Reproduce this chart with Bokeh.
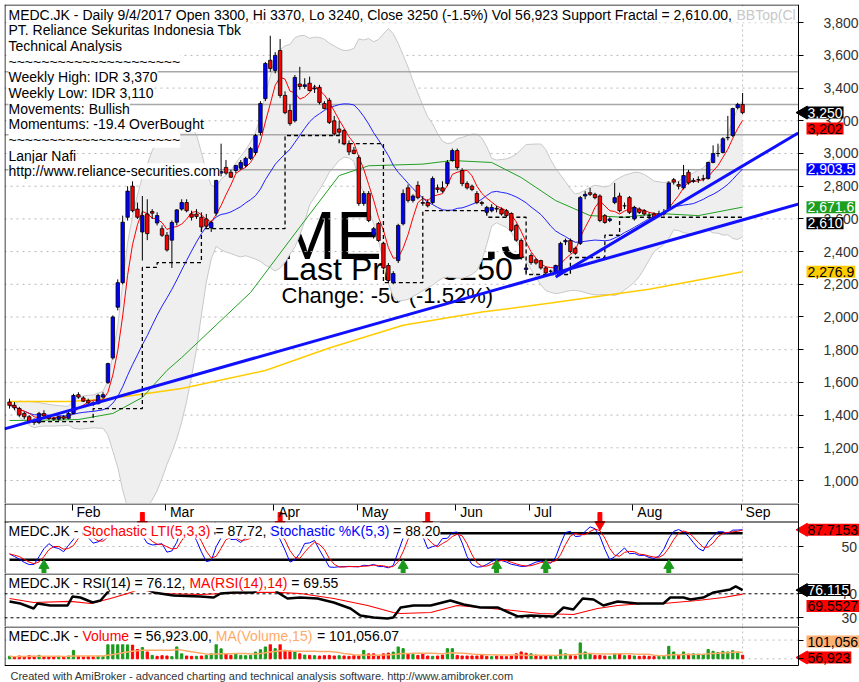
import numpy as np
import pandas as pd
from bokeh.plotting import figure
from bokeh.layouts import column
from bokeh.models import Range1d, FixedTicker, NumeralTickFormatter, Label, ColumnDataSource, LinearAxis
from bokeh.embed import file_html
from bokeh.resources import INLINE

FONT = "Liberation Sans"

# ---------------- data ----------------
opens = [1480,1460,1440,1410,1390,1365,1355,1410,1395,1380,
         1375,1390,1380,1410,1525,1505,1490,1475,1470,1510,
         1600,1750,2060,2210,2610,2800,2660,2520,2630,2645,
         2575,2540,2500,2470,2580,2660,2700,2630,2630,2610,
         2600,2545,2635,2880,2915,2885,2896,2910,2927,2970,
         3006,3128,3336,3570,3508,3630,3355,3263,3200,3425,
         3410,3430,3395,3405,3306,3325,3200,3150,3140,3060,
         3020,2975,2694,2755,2500,2572,2450,2315,2210,2345,
         2570,2790,2713,2805,2700,2700,2700,2790,2790,2816,
         2957,3018,2896,2816,2800,2755,2700,2640,2650,2665,
         2660,2650,2633,2560,2468,2290,2376,2350,2345,2300,
         2280,2270,2266,2460,2468,2420,2450,2740,2760,2750,
         2740,2620,2590,2700,2740,2680,2730,2600,2660,2650,
         2620,2630,2620,2630,2660,2840,2810,2790,2885,2830,
         2840,2845,2847,2945,3000,3006,3097,3110,3280,3300]
highs = [1500,1480,1450,1420,1400,1380,1420,1430,1400,1390,
         1395,1400,1420,1530,1540,1515,1500,1485,1530,1540,
         1720,2010,2230,2620,2800,2830,2700,2740,2720,2660,
         2640,2560,2520,2590,2660,2720,2720,2650,2660,2640,
         2630,2590,2840,3060,2960,2900,2930,2960,2980,3040,
         3120,3320,3560,3720,3620,3700,3380,3300,3480,3530,
         3460,3470,3420,3420,3320,3340,3230,3200,3150,3080,
         3040,2990,2770,2770,2550,2580,2460,2330,2280,2570,
         2780,2810,2750,2830,2740,2720,2860,2810,2830,2960,
         3030,3030,2910,2830,2810,2770,2710,2680,2690,2680,
         2670,2660,2640,2570,2480,2320,2390,2360,2350,2310,
         2290,2320,2460,2480,2480,2430,2740,2770,2790,2760,
         2750,2630,2610,2820,2760,2700,2740,2680,2670,2660,
         2640,2640,2650,2660,2830,2850,2830,2930,2900,2850,
         2860,2870,2950,3050,3060,3100,3230,3280,3310,3370]
lows = [1440,1430,1390,1375,1350,1340,1345,1385,1370,1365,
        1365,1370,1375,1405,1500,1480,1465,1455,1465,1500,
        1590,1740,2040,2200,2590,2640,2600,2345,2470,2600,
        2560,2490,2400,2300,2560,2650,2640,2590,2600,2540,
        2540,2520,2620,2860,2870,2850,2880,2900,2915,2960,
        2990,3110,3320,3500,3490,3340,3240,3170,3190,3390,
        3395,3380,3370,3300,3270,3180,3110,3110,3050,2990,
        2995,2680,2680,2580,2480,2460,2290,2210,2200,2330,
        2560,2700,2700,2720,2680,2670,2690,2760,2760,2800,
        2950,2900,2800,2780,2770,2690,2680,2630,2640,2640,
        2620,2610,2520,2460,2350,2270,2320,2320,2290,2260,
        2265,2260,2260,2440,2390,2380,2440,2720,2740,2720,
        2580,2570,2580,2690,2640,2660,2630,2590,2630,2620,
        2600,2600,2610,2620,2650,2810,2780,2780,2810,2820,
        2820,2830,2840,2940,2980,3000,3080,3100,3270,3240]
closes = [1460,1445,1400,1390,1360,1355,1410,1395,1380,1375,
          1390,1380,1410,1520,1510,1485,1475,1465,1520,1525,
          1715,2000,2210,2580,2770,2650,2610,2620,2510,2635,
          2620,2500,2410,2578,2655,2700,2650,2610,2615,2550,
          2555,2578,2835,2890,2880,2855,2927,2945,2970,3030,
          3110,3306,3550,3520,3600,3355,3250,3183,3465,3410,
          3420,3385,3400,3312,3275,3190,3120,3130,3060,3010,
          3000,2694,2755,2590,2540,2468,2300,2223,2266,2560,
          2755,2713,2740,2730,2695,2680,2847,2780,2770,2945,
          3018,2914,2816,2790,2780,2700,2694,2670,2670,2660,
          2630,2620,2530,2470,2364,2300,2333,2330,2300,2270,
          2280,2315,2450,2468,2400,2390,2730,2750,2750,2730,
          2590,2578,2600,2730,2650,2680,2640,2670,2640,2630,
          2620,2610,2630,2640,2820,2825,2800,2865,2820,2835,
          2840,2845,2945,3000,3000,3090,3097,3275,3300,3250]
volume_k = [40,30,45,35,50,40,55,35,30,35,
            40,30,45,135,40,30,35,30,40,35,
            230,235,230,240,225,220,150,180,110,55,
            40,50,45,35,190,80,45,40,40,45,
            55,80,235,160,80,55,80,55,50,55,
            108,145,190,233,163,233,135,125,108,80,
            60,55,50,45,50,55,45,50,45,40,
            50,45,135,80,80,55,80,92,108,190,
            163,80,70,55,80,45,40,45,60,163,
            163,55,45,45,45,45,60,40,35,45,
            40,35,45,80,110,90,80,60,40,40,
            40,40,146,80,55,45,255,110,80,55,
            55,45,40,80,80,50,55,45,40,45,
            40,35,40,45,200,110,70,110,75,80,
            75,70,150,120,100,120,110,130,110,56.923]

month_idx = [13, 32, 54, 71, 91, 106, 127, 149]
month_lbl = ["Feb", "Mar", "Apr", "May", "Jun", "Jul", "Aug", "Sep"]
price_ticks = list(range(1000, 3801, 200))

# moving averages (bar index, value)
green_idx = [0, 10, 14, 21, 27, 32, 35, 49, 59, 67, 73, 84, 90, 98, 104, 111, 118, 125, 132, 140, 149]
green_val = [1367, 1370, 1373, 1410, 1508, 1673, 1752, 2150, 2550, 2865, 2925, 2935, 2957, 2945, 2853, 2712, 2620, 2610, 2633, 2620, 2672]
yellow_idx = [0, 12, 18.5, 25, 35, 52, 65, 80, 96, 110, 130, 149]
yellow_val = [1483, 1483, 1495, 1520, 1563, 1673, 1810, 1950, 2030, 2085, 2170, 2277]

# support fractal steps (start bar, level)
sup_idx = [5, 17, 27, 30, 39, 56, 67, 76, 84, 97, 105, 114, 121, 124]
sup_lvl = [1360, 1440, 2303, 2333, 2540, 3110, 3060, 2210, 2650, 2610, 2260, 2364, 2500, 2610]

# trend lines (bar index pairs, price pairs)
trend1_idx = [-1.0, 160.3]; trend1_val = [1316, 2690]
trend2_idx = [111, 160.3];  trend2_val = [2245, 3125]
trend3_idx = [112, 132];    trend3_val = [2262, 2630]

pivot_lvls = [3500, 3300, 3115, 2900]

# RSI
rsi_idx = [0, 2.2, 4.9, 5.7, 8.3, 11.8, 12.8, 14.4, 16.9, 18.5, 19.9, 21.5, 23.6, 25.6, 27.6, 29.3, 33.3,
           38.8, 41.5, 42.9, 45.5, 49.6, 51.6, 53, 54.5, 56.5, 59.1, 62.6, 65.9, 69.3, 71.3, 74, 76.8, 78,
           79.5, 82.1, 85.6, 89.6, 92.3, 95.7, 99.2, 103.3, 105.9, 110.6, 112.6, 114.6, 116.5, 118.7,
           120.7, 123.6, 127.6, 132.9, 134.3, 137, 138.4, 141, 143.1, 146.5, 147.6, 149]
rsi_val = [57.2, 53.8, 45.5, 53.8, 50.5, 50.5, 65.5, 63.8, 55.5, 58.8, 72.2, 85, 90, 88, 80, 72.2, 67.2,
           65.5, 63.8, 70.5, 72.2, 72.2, 85, 88, 72.2, 62.2, 63.8, 62.2, 55.5, 45.5, 33.8, 30.5, 28.8, 30.5,
           47.2, 50.5, 50.5, 58.8, 52.2, 47.2, 47.2, 32.2, 33.8, 32.2, 47.2, 43.8, 62.2, 60.5,
           50.5, 57.2, 53.8, 53.8, 63.8, 63.8, 60.5, 63.8, 72.2, 77.2, 82.2, 76.12]
rsima_idx = [0, 4.9, 12.4, 16.5, 20.5, 24, 26.6, 30.1, 38.8, 49.6, 54.5, 59.1, 65.9, 72.8, 78, 79.5, 85.6,
             91, 95.7, 102.4, 107.9, 114.6, 119.5, 123.6, 128.9, 132.9, 139.8, 145.1, 149]
rsima_val = [62.2, 55.5, 57.2, 53.8, 62.2, 70.5, 78, 70.5, 68.8, 72.2, 72.2, 70.5, 62.2, 50.5, 38.8, 37.2, 38.8,
             50.5, 47.2, 42.2, 37.2, 35.5, 45.5, 50.5, 53.8, 53.8, 58.8, 63.8, 69.55]

buy_idx = [7, 80, 99, 109, 134]
sell_idx = [27, 55, 85, 120]
stoch_levels = [20, 80]
rsi_levels = [30, 70]

# right-hand value tags (value, text, background, text colour, has pointer)
main_tags = [(3250, "3,250", "#000000", "#ffffff", True), (3202, "3,202", "#ff0000", "#000000", False),
             (2903.5, "2,903.5", "#0000ff", "#ffffff", False), (2671.6, "2,671.6", "#1e9e1e", "#ffffff", False),
             (2610, "2,610", "#000000", "#ffffff", False), (2276.9, "2,276.9", "#ffcc00", "#000000", False)]
stoch_tags = [(87.7153, "87.7153", "#ff0000", "#000000", True)]
rsi_tags = [(76.115, "76.115", "#000000", "#ffffff", True), (69.5527, "69.5527", "#ff0000", "#000000", False)]
vol_tags = [(101056, "101,056", "#ffb070", "#000000", False), (56923, "56,923", "#ff0000", "#000000", True)]

# ---------------- derived series ----------------
n = len(closes)
idx = np.arange(n)
cs = pd.Series(closes, dtype=float)
hs = pd.Series(highs, dtype=float)
ls = pd.Series(lows, dtype=float)
ma5 = cs.rolling(5, min_periods=1).mean()
ma20 = cs.rolling(20, min_periods=1).mean()
sd20 = cs.rolling(20, min_periods=1).std(ddof=0)
bbt = ma20 + 2 * sd20
bbb = ma20 - 2 * sd20
hh = hs.rolling(5, min_periods=1).max()
ll = ls.rolling(5, min_periods=1).min()
rawk = 100 * (cs - ll) / (hh - ll)
stk = rawk.rolling(3, min_periods=1).mean()
std_ = stk.rolling(3, min_periods=1).mean()
vol = pd.Series(volume_k) * 1000
volma = vol.rolling(15, min_periods=1).mean()
up_c = [c >= o for o, c in zip(opens, closes)]
vol_up = [True] + [closes[i] >= closes[i - 1] for i in range(1, n)]

# ---------------- helpers ----------------
AW = {}
AW.update(dict(zip(" !(),-./:=%~", [278, 278, 333, 333, 278, 333, 278, 278, 278, 584, 889, 584])))
AW.update({str(d): 556 for d in range(10)})
AW.update(dict(zip("ABCDEFGHIJKLMNOPQRSTUVWXYZ",
                   [667,667,722,722,667,611,778,722,278,500,667,556,833,722,778,667,778,722,667,611,722,667,944,667,667,611])))
AW.update(dict(zip("abcdefghijklmnopqrstuvwxyz",
                   [556,556,500,556,556,278,556,556,222,222,500,222,833,556,556,556,556,333,500,278,556,500,722,500,500,500])))


def tw(s, size):
    return sum(AW.get(ch, 556) for ch in s) * size / 1000.0


W = 859
PX0 = 4            # frame left (page px)
PXB = 4.92         # px per bar
X0 = -1.02
X1 = X0 + (W - PX0) / PXB


def xp(page_x):
    return X0 + (page_x - PX0) / PXB


XA = xp(798)       # price-axis line
xr = Range1d(X0, X1)


class Panel:
    def __init__(self, ptop, pbot, vtop, vbot, top_border=0):
        self.ptop, self.pbot, self.vtop, self.vbot = ptop, pbot, vtop, vbot
        self.fh = pbot - ptop
        self.fig = figure(width=W, height=pbot - ptop + top_border, x_range=xr,
                          y_range=Range1d(vbot, vtop), x_axis_location=None,
                          y_axis_location="right", toolbar_location=None, output_backend="svg",
                          min_border_left=PX0, min_border_top=top_border, min_border_right=0,
                          min_border_bottom=0)
        p = self.fig
        p.outline_line_color = None
        p.background_fill_color = "white"
        p.border_fill_color = "white"
        p.xgrid.visible = False
        p.ygrid.visible = False
        ya = p.yaxis[0]
        ya.fixed_location = XA
        ya.axis_line_color = "black"
        ya.major_tick_line_color = "black"
        ya.major_tick_out = 5
        ya.major_tick_in = 0
        ya.minor_tick_line_color = None
        ya.major_label_text_font = FONT
        ya.major_label_text_font_size = "14px"
        ya.major_label_text_color = "#333333"

    def v(self, page_y):
        return self.vtop - (page_y - self.ptop) * (self.vtop - self.vbot) / self.fh

    def pg(self, val):
        return self.ptop + (self.vtop - val) * self.fh / (self.vtop - self.vbot)

    def hline(self, page_y, color="black", width=1, dash="solid"):
        y = self.v(page_y)
        self.fig.segment(x0=[X0], y0=[y], x1=[XA], y1=[y], line_color=color, line_width=width, line_dash=dash)

    def vline(self, x, p0, p1, color="black", width=1, dash="solid"):
        self.fig.segment(x0=[x], y0=[self.v(p0)], x1=[x], y1=[self.v(p1)], line_color=color,
                         line_width=width, line_dash=dash)

    def grid(self, vals):
        self.fig.segment(x0=[X0] * len(vals), y0=vals, x1=[XA] * len(vals), y1=vals,
                         line_color="#b8b8b8", line_dash="2 4", line_width=1)

    def text(self, page_x, page_y, parts, size=14, bg="white"):
        x = page_x - PX0
        for txt, col in parts:
            self.fig.add_layout(Label(x=x, y=self.pbot - page_y, x_units="screen", y_units="screen",
                                      text=txt, text_font=FONT, text_font_size=f"{size}px",
                                      text_color=col, text_baseline="middle", text_align="left",
                                      background_fill_color=bg, background_fill_alpha=1.0 if bg else 0.0))
            x += tw(txt, size)

    def tags(self, items, lim_page, gap=16):
        pos = [self.pg(it[0]) for it in items]
        order = sorted(range(len(items)), key=lambda k: pos[k])
        sy = [pos[k] for k in order]
        for j in range(1, len(sy)):
            sy[j] = max(sy[j], sy[j - 1] + gap)
        if sy[-1] > lim_page:
            sy[-1] = lim_page
            for j in range(len(sy) - 2, -1, -1):
                sy[j] = min(sy[j], sy[j + 1] - gap)
        for j, k in enumerate(order):
            val, txt, bg, fg, ptr = items[k]
            yv = self.v(sy[j])
            if ptr:
                self.fig.scatter(x=[xp(803)], y=[yv], marker="triangle", angle=np.pi / 2, size=13,
                                 fill_color=bg, line_color=bg)
            self.fig.add_layout(Label(x=xp(806), y=yv, x_units="data", y_units="data",
                                      text=txt, text_font=FONT, text_font_size="14px", text_color=fg,
                                      text_baseline="middle", text_align="left", padding=1,
                                      background_fill_color=bg, background_fill_alpha=1.0))


# ---------------- main price panel ----------------
M = Panel(4, 503, 1000 + 476 * 6.116, 1000 - 23 * 6.116, top_border=4)
pm = M.fig
pm.yaxis[0].ticker = FixedTicker(ticks=price_ticks)
pm.yaxis[0].formatter = NumeralTickFormatter(format="0,0")
pm.yaxis[0].major_label_standoff = 20

for txt, sz, by, bx in [("MEDC.JK", 69, 235, 278), ("Last Price: 3250", 32, 268, 281),
                        ("Change: -50 (-1.52%)", 22, 295, 281)]:
    pm.add_layout(Label(x=bx - PX0, y=M.pbot - by, x_units="screen", y_units="screen", text=txt,
                        text_font=FONT, text_font_size=f"{sz}px", text_color="#000000",
                        text_baseline="alphabetic", level="underlay"))

M.grid(price_ticks)
M.vline(n - 1, 4, 503, color="#c0c0c0", dash="2 3")
pm.varea(x=idx, y1=bbb, y2=bbt, fill_color="#efefef")
pm.line(idx, bbt, line_color="#c8c8c8", line_width=1)
pm.line(idx, bbb, line_color="#c8c8c8", line_width=1)
pm.segment(x0=[X0] * len(pivot_lvls), y0=pivot_lvls, x1=[XA] * len(pivot_lvls), y1=pivot_lvls,
           line_color="#a8a8a8", line_width=1.5)
pm.line(yellow_idx, yellow_val, line_color="#ffcc00", line_width=1.5)
pm.line(green_idx, green_val, line_color="#22a022", line_width=1)
pm.line(idx, ma20, line_color="#2020ff", line_width=1)
pm.line(idx, ma5, line_color="#ff0000", line_width=1)
pm.step(sup_idx + [n - 1], sup_lvl + [sup_lvl[-1]], mode="after", line_color="#000000",
        line_width=1.3, line_dash="4 3")

src = ColumnDataSource(dict(x=idx, o=opens, h=highs, l=lows, c=closes,
                            top=np.maximum(opens, closes), bot=np.minimum(opens, closes),
                            col=["#0000ff" if u else "#ff0000" for u in up_c]))
pm.segment(x0="x", y0="l", x1="x", y1="h", source=src, line_color="black", line_width=1)
pm.vbar(x="x", width=0.7, top="top", bottom="bot", source=src, fill_color="col",
        line_color="black", line_width=0.8)

pm.line(trend3_idx, trend3_val, line_color="#1010ff", line_width=1)
pm.line(trend1_idx, trend1_val, line_color="#1010ff", line_width=3)
pm.line(trend2_idx, trend2_val, line_color="#1010ff", line_width=3)

M.hline(4.5)
M.vline(xp(4.5), 4, 503)

M.text(8, 14, [("MEDC.JK - Daily 9/4/2017 Open 3300, Hi 3370, Lo 3240, Close 3250 (-1.5%) "
                "Vol 56,923 Support Fractal = 2,610.00, ", "#000000"), ("BBTop(Cl", "#c8c8c8")])
header_lines = ["PT. Reliance Sekuritas Indonesia Tbk", "Technical Analysis", "~" * 21,
                "Weekly High: IDR 3,370", "Weekly Low: IDR 3,110", "Movements: Bullish",
                "Momentums: -19.4 OverBought", "~" * 21, "Lanjar Nafi",
                "http://www.reliance-securities.com"]
for k, t in enumerate(header_lines):
    M.text(8, 14 + 15.67 * (k + 1), [(t, "#000000")])
M.tags(main_tags, 495)

# ---------------- date strip + stochastic panel ----------------
S = Panel(503, 573, 147.0, -10.9)
ps = S.fig
ps.yaxis[0].ticker = FixedTicker(ticks=[50])
ps.yaxis[0].major_label_standoff = 38
S.grid([50])
S.vline(n - 1, 521, 573, color="#c0c0c0", dash="2 3")

# month axis living in the strip
lab_pos = [round(m + (tw(l, 14) / 2 + 3) / PXB, 3) for m, l in zip(month_idx, month_lbl)]
xa = LinearAxis(fixed_location=S.v(503.5))
ps.add_layout(xa, "below")
xa.ticker = FixedTicker(ticks=lab_pos, minor_ticks=[m - 0.3 for m in month_idx])
xa.major_label_overrides = {p_: l for p_, l in zip(lab_pos, month_lbl)}
xa.major_tick_out = 0
xa.major_tick_in = 0
xa.minor_tick_out = 6
xa.minor_tick_in = 0
xa.minor_tick_line_color = "black"
xa.axis_line_color = None
xa.major_label_standoff = -6
xa.major_label_text_font = FONT
xa.major_label_text_font_size = "14px"
xa.major_label_text_color = "#000000"

ps.segment(x0=[0, 0], y0=stoch_levels, x1=[n - 1, n - 1], y1=stoch_levels, line_color="black", line_width=2.5)
ps.line(idx, stk, line_color="#0000ff", line_width=1)
ps.line(idx, std_, line_color="#ff0000", line_width=1)
ps.vbar(x=buy_idx, width=0.8, bottom=S.v(573), top=S.v(567), fill_color="#1a9a1a", line_color="#1a9a1a")
ps.scatter(x=buy_idx, y=[S.v(565)] * len(buy_idx), marker="triangle", size=10,
           fill_color="#1a9a1a", line_color="#1a9a1a")
ps.vbar(x=sell_idx, width=0.8, bottom=S.v(522), top=S.v(512), fill_color="#ff0000", line_color="#ff0000")
ps.scatter(x=sell_idx, y=[S.v(524)] * len(sell_idx), marker="inverted_triangle", size=10,
           fill_color="#ff0000", line_color="#ff0000")
S.hline(503.5)
S.hline(521.5)
S.vline(xp(4.5), 503, 573)
S.text(8, 530, [("MEDC.JK - ", "#000000"), ("Stochastic LTI(5,3,3) ", "#ff0000"),
                ("= 87.72, ", "#000000"), ("Stochastic %K(5,3) ", "#0000ff"), ("= 88.20", "#000000")])
S.tags(stoch_tags, 565)

# ---------------- RSI panel ----------------
R = Panel(573, 626, 103.8, 15.5)
pr = R.fig
pr.yaxis[0].ticker = FixedTicker(ticks=rsi_levels)
pr.yaxis[0].major_label_standoff = 38
pr.segment(x0=[X0] * 2, y0=rsi_levels, x1=[XA] * 2, y1=rsi_levels, line_color="black",
           line_width=1, line_dash="3 3")
R.vline(n - 1, 573, 626, color="#c0c0c0", dash="2 3")
pr.line(rsima_idx, rsima_val, line_color="#ff0000", line_width=1.2)
pr.line(rsi_idx, rsi_val, line_color="#000000", line_width=2.5)
R.hline(573.5)
R.vline(xp(4.5), 573, 626)
R.text(8, 582.7, [("MEDC.JK - RSI(14) = 76.12, ", "#000000"), ("MA(RSI(14),14) ", "#ff0000"),
                  ("= 69.55", "#000000")])
R.tags(rsi_tags, 618)

# ---------------- volume panel + footer ----------------
V = Panel(626, 682, 517000, -379000)
pv = V.fig
vt = [0, 300000]
pv.yaxis[0].ticker = FixedTicker(ticks=vt)
pv.yaxis[0].major_label_overrides = {0: "", 300000: ""}
pv.yaxis[0].bounds = (V.v(665), V.v(626))
V.grid(vt)
V.vline(n - 1, 626, 665, color="#c0c0c0", dash="2 3")
pv.vbar(x=idx, width=0.45, top=vol, bottom=0,
        fill_color=["#1a9a1a" if u else "#ff0000" for u in vol_up],
        line_color=["#1a9a1a" if u else "#ff0000" for u in vol_up])
pv.line(idx, volma, line_color="#ffaa66", line_width=1.5)
V.hline(626.5)
V.hline(665)
V.vline(xp(4.5), 626, 665)
V.text(8, 635.7, [("MEDC.JK - ", "#000000"), ("Volume ", "#ff0000"), ("= 56,923.00, ", "#000000"),
                  ("MA(Volume,15) ", "#ffaa66"), ("= 101,056.07", "#000000")])
V.tags(vol_tags, 657)
V.text(10, 675, [("Created with AmiBroker - advanced charting and technical analysis software. "
                  "http://www.amibroker.com", "#333333")], size=11, bg=None)

layout = column(pm, ps, pr, pv)
open("out.html", "w").write(file_html(layout, INLINE, title="MEDC.JK"))
